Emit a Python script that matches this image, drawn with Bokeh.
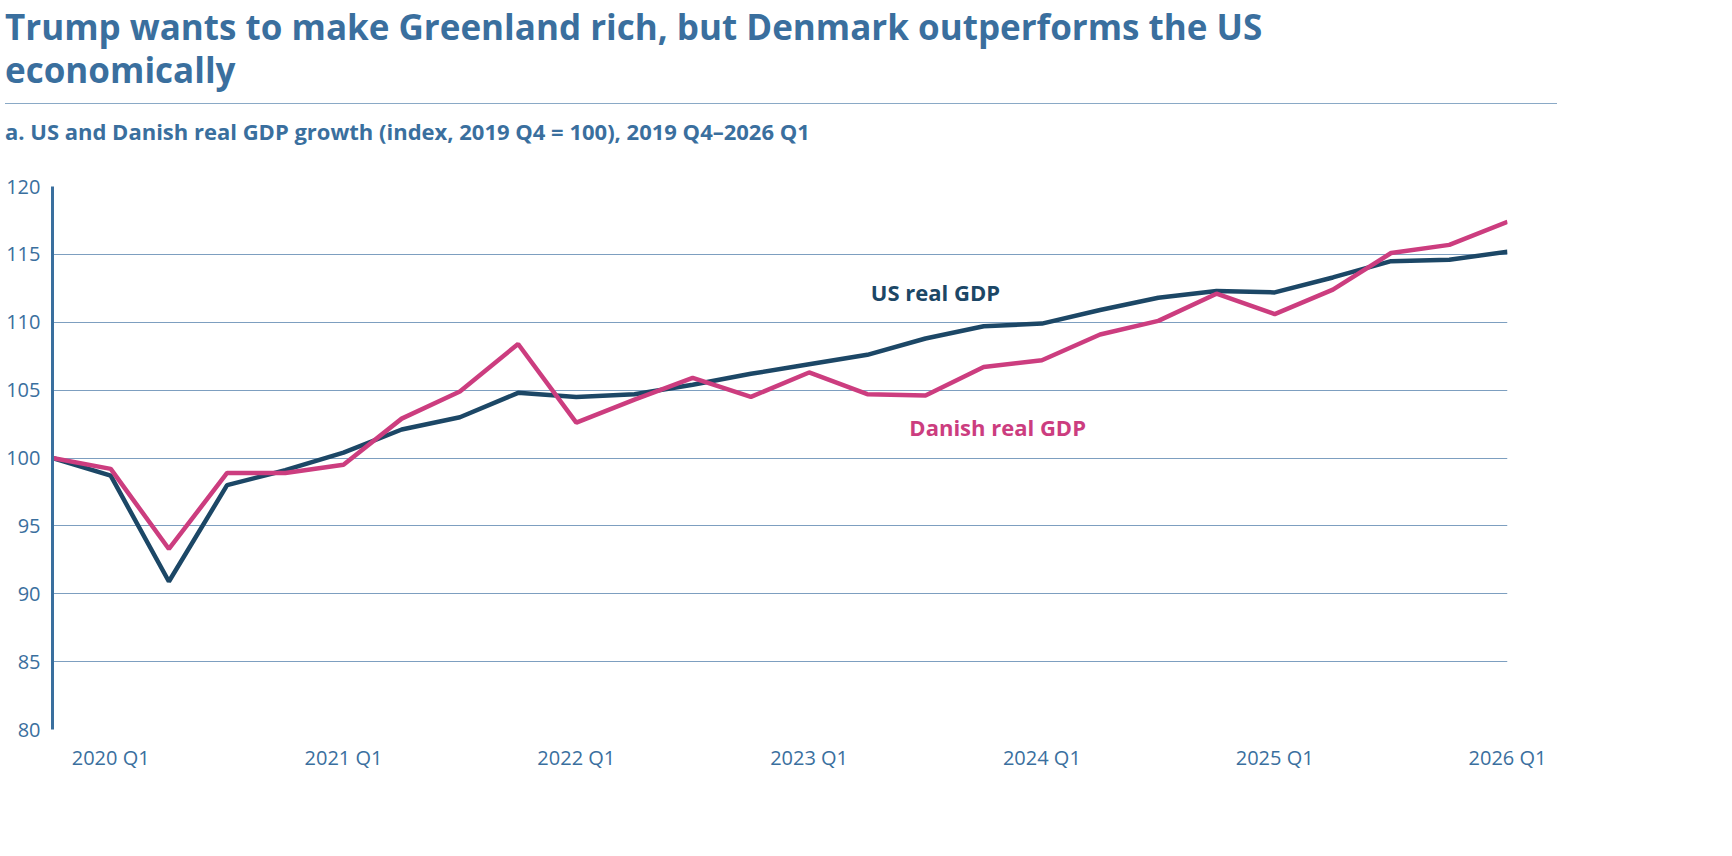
from bokeh.plotting import figure
from bokeh.models import Div, FixedTicker, Label
from bokeh.layouts import column
from bokeh.embed import file_html
from bokeh.resources import INLINE

quarters = ["2019 Q4"] + [f"{y} Q{q}" for y in range(2020, 2026) for q in range(1, 5)] + ["2026 Q1"]
us_gdp = [100, 98.7, 90.9, 98.0, 99.1, 100.4, 102.1, 103.0, 104.8, 104.5, 104.7, 105.4, 106.2,
          106.9, 107.6, 108.8, 109.7, 109.9, 110.9, 111.8, 112.3, 112.2, 113.3, 114.5, 114.6, 115.2]
dk_gdp = [100, 99.2, 93.3, 98.9, 98.9, 99.5, 102.9, 104.9, 108.4, 102.6, 104.3, 105.9, 104.5,
          106.3, 104.7, 104.6, 106.7, 107.2, 109.1, 110.1, 112.1, 110.6, 112.4, 115.1, 115.7, 117.4]
xs = list(range(len(quarters)))
tick_idx = [i for i, q in enumerate(quarters) if q.endswith("Q1")]

BLUE = "#3a6f9e"
FONT = "Open Sans"

header = Div(text=f"""
<div style="font-family:'{FONT}';color:{BLUE};width:1552px">
<div style="font-size:35px;font-weight:700;line-height:43px;margin:0">Trump wants to make Greenland rich, but Denmark outperforms the US<br>economically</div>
<div style="border-top:1.5px solid #8aa9c6;margin-top:12px;width:1552px"></div>
<div style="font-size:22px;font-weight:700;margin-top:12px">a. US and Danish real GDP growth (index, 2019 Q4 = 100), 2019 Q4\u20132026 Q1</div>
</div>""", width=1552, height=157)

p = figure(width=1552, height=607, x_range=(0, 25), y_range=(80, 120),
           output_backend="svg", toolbar_location=None,
           min_border_left=52, min_border_right=45, min_border_top=19, min_border_bottom=45)
p.outline_line_color = None
p.xgrid.grid_line_color = None
p.ygrid.grid_line_color = "#7d9fc0"
p.ygrid.grid_line_width = 1.2
p.yaxis.ticker = FixedTicker(ticks=list(range(80, 121, 5)))
p.xaxis.ticker = FixedTicker(ticks=tick_idx)
p.xaxis.major_label_overrides = {i: quarters[i] for i in tick_idx}
for ax in (p.xaxis, p.yaxis):
    ax.major_label_text_font = FONT
    ax.major_label_text_font_size = "20px"
    ax.major_label_text_color = BLUE
    ax.major_tick_line_color = None
    ax.minor_tick_line_color = None
p.xaxis.axis_line_color = None
p.yaxis.axis_line_color = BLUE
p.yaxis.axis_line_width = 3
p.yaxis.major_label_standoff = 6
p.xaxis.major_label_standoff = 8

p.line(xs, us_gdp, line_color="#1c4766", line_width=4.5)
p.line(xs, dk_gdp, line_color="#cc3d7f", line_width=4.5)

p.add_layout(Label(x=15.17, y=112.2, text="US real GDP", text_font=FONT, text_font_style="bold",
                   text_font_size="22px", text_color="#1c4766", text_align="center", text_baseline="middle"))
p.add_layout(Label(x=16.24, y=102.3, text="Danish real GDP", text_font=FONT, text_font_style="bold",
                   text_font_size="22px", text_color="#cc3d7f", text_align="center", text_baseline="middle"))

open("out.html", "w").write(file_html(column(header, p, spacing=0), INLINE))
